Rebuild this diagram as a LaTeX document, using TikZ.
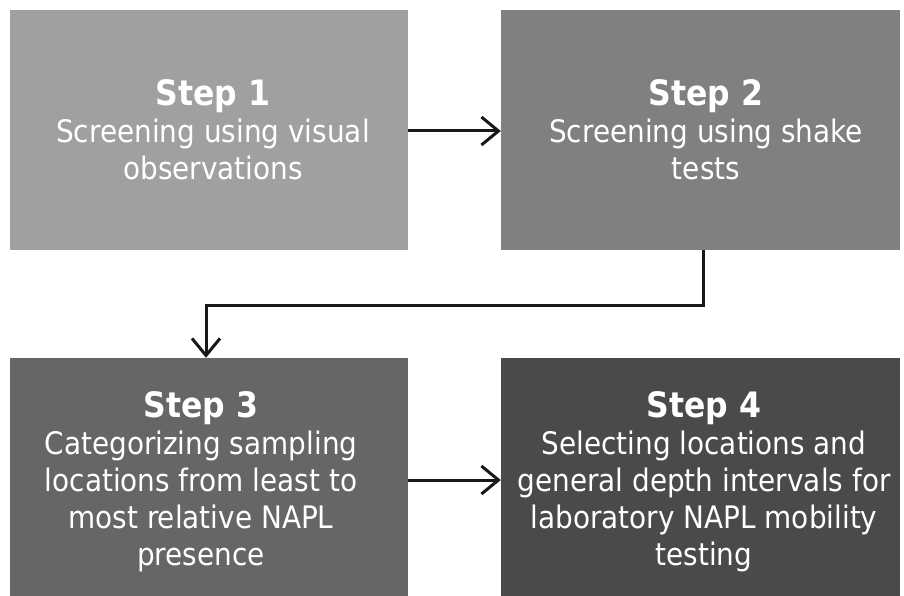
\documentclass[tikz,border=0pt]{standalone}
\usepackage{fontspec}
\setmainfont{DejaVu Sans}[FakeStretch=0.9]
\usetikzlibrary{arrows.meta}
\definecolor{boxA}{HTML}{A0A0A0}
\definecolor{boxB}{HTML}{808080}
\definecolor{boxC}{HTML}{666666}
\definecolor{boxD}{HTML}{4A4A4A}
\tikzset{
  stepbox/.style={rectangle, inner sep=0pt, minimum width=398pt, draw=none},
  steptext/.style={inner sep=0pt, text=white, align=center,
    font=\fontsize{31}{37}\selectfont},
  flow/.style={line width=3pt, draw=black!90,
    -{Straight Barb[length=17pt, width=28pt, line width=3pt]}}
}
\newcommand{\steptitle}[1]{{\fontsize{35}{38}\selectfont\bfseries #1}}
\begin{document}
\begin{tikzpicture}[x=1pt,y=-1pt]
\useasboundingbox (0,0) rectangle (904,596);
\fill[white] (0,0) rectangle (904,596);
\node[stepbox, fill=boxA, minimum height=240pt] (s1) at (209,130) {};
\node[stepbox, fill=boxB, minimum height=240pt, minimum width=399pt] (s2) at (700.5,130) {};
\node[stepbox, fill=boxC, minimum height=238pt] (s3) at (209,477) {};
\node[stepbox, fill=boxD, minimum height=238pt, minimum width=399pt] (s4) at (700.5,477) {};
\node[steptext] (t1) at (213,130)
  {\steptitle{Step 1}\\Screening using visual\\observations};
\node[steptext] (t2) at (706,130)
  {\steptitle{Step 2}\\Screening using shake\\tests};
\node[steptext] (t3) at (201,482)
  {\steptitle{Step 3}\\Categorizing sampling\\locations from least to\\most relative NAPL\\presence};
\node[steptext] (t4) at (704,482)
  {\steptitle{Step 4}\\Selecting locations and\\general depth intervals for\\laboratory NAPL mobility\\testing};
\coordinate (k1) at (703,305);
\coordinate (k2) at (206,305);
\draw[flow] (s1.east |- 0,131) -- (s2.west |- 0,131);
\draw[flow] (s2.south -| 703,0) -- (k1) -- (k2) -- (k2 |- s3.north);
\draw[flow] (s3.east |- 0,480) -- (s4.west |- 0,480);
\end{tikzpicture}
\end{document}
